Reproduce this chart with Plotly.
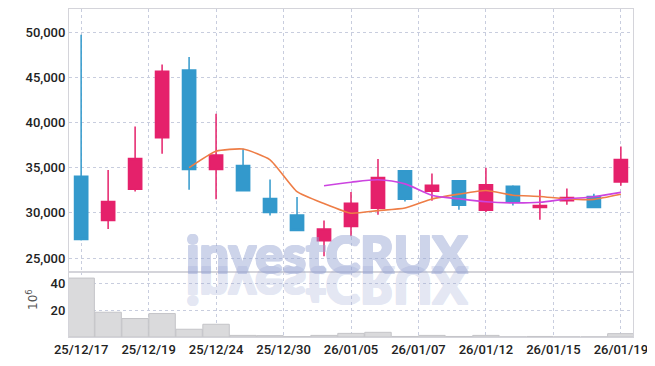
import plotly.graph_objects as go

# ---------------- data ----------------
dates = ["25/12/17", "25/12/18", "25/12/19", "25/12/22", "25/12/23", "25/12/24",
         "25/12/26", "25/12/29", "25/12/30", "26/01/02", "26/01/05", "26/01/06",
         "26/01/07", "26/01/08", "26/01/09", "26/01/12", "26/01/13", "26/01/14",
         "26/01/15", "26/01/16", "26/01/19"]
opens = [34050, 29150, 32600, 38300, 45800, 34800, 35250, 31600, 29750, 26900, 28500,
         30500, 34650, 32400, 33550, 30300, 32950, 30600, 31350, 31800, 33400]
highs = [49700, 34750, 39550, 46400, 47250, 40950, 37100, 33700, 31750, 29150, 32300,
         35950, 34650, 34350, 33550, 35000, 33050, 32550, 32700, 32100, 37350]
lows = [26950, 28200, 32350, 36550, 32550, 31500, 32450, 29700, 28050, 25200, 27400,
        29800, 31250, 31350, 30350, 30100, 30800, 29250, 30900, 30600, 33000]
closes = [27050, 31250, 36000, 45650, 34800, 36400, 32450, 30050, 28050, 28200, 31050,
          33900, 31500, 33050, 30850, 33100, 31250, 30800, 31700, 30600, 35900]
ma5 = [None, None, None, None, 35000, 36820, 37060, 35870, 32350, 31030, 29960,
       30250, 30540, 31540, 32070, 32480, 31950, 31810, 31540, 31490, 32050]
ma10 = [None, None, None, None, None, None, None, None, None, 32990, 33390,
        33655, 33205, 31945, 31550, 31220, 31100, 31175, 31540, 31780, 32265]
volume_m = [44.0, 18.5, 13.8, 17.5, 5.8, 9.5, 1.2, 1.0, 0.3, 1.2, 2.7,
            3.5, 0.4, 1.2, 0.4, 1.2, 0.1, 0.4, 0.1, 0.1, 2.5]
tick_pos = [0, 2.5, 5, 7.5, 10, 12.5, 15, 17.5, 20]
tick_labels = ["25/12/17", "25/12/19", "25/12/24", "25/12/30", "26/01/05",
               "26/01/07", "26/01/12", "26/01/15", "26/01/19"]
price_ticks = [25000, 30000, 35000, 40000, 45000, 50000]
vol_ticks = [20, 40]

x = list(range(len(dates)))

UP = "#e5216b"
DOWN = "#3399cc"
GRID = "rgb(200,205,222)"
FRAME = "rgb(212,212,218)"
TICKFONT = dict(family="Roboto", size=13, weight=500, color="#222222")
WMFONT = "Lato, Liberation Sans, Arial"
WMCOL = "rgb(152,166,212)"
WMSHADOW = ", ".join(f"{dx}px {dy}px 0px {WMCOL}" for dx, dy in
                     [(1, 0), (-1, 0), (0, 1), (0, -1), (1, 1), (-1, -1), (1, -1), (-1, 1)])

fig = go.Figure()

fig.add_trace(go.Candlestick(
    x=x, open=opens, high=highs, low=lows, close=closes,
    increasing=dict(line=dict(color=UP, width=1.5), fillcolor=UP),
    decreasing=dict(line=dict(color=DOWN, width=1.5), fillcolor=DOWN),
    xaxis="x2", yaxis="y2", showlegend=False, hoverinfo="skip",
))
fig.add_trace(go.Scatter(
    x=x, y=ma5, mode="lines", line=dict(color="#ee7d46", width=1.6, shape="spline", smoothing=0.5),
    xaxis="x2", yaxis="y2", showlegend=False, hoverinfo="skip",
))
fig.add_trace(go.Scatter(
    x=x, y=ma10, mode="lines", line=dict(color="#cc44e0", width=1.6, shape="spline", smoothing=0.8),
    xaxis="x2", yaxis="y2", showlegend=False, hoverinfo="skip",
))
fig.add_trace(go.Bar(
    x=x, y=volume_m, marker=dict(color="rgb(218,218,220)", line=dict(color="rgb(196,196,200)", width=1)),
    xaxis="x", yaxis="y", showlegend=False, hoverinfo="skip",
))

xrange = [-0.45, 20.45]
common_x = dict(range=xrange, tickmode="array", tickvals=tick_pos, showgrid=True,
                gridcolor=GRID, griddash="dot", gridwidth=1, showline=True, mirror=True,
                linecolor=FRAME, linewidth=1, zeroline=False, ticks="", automargin=False)

fig.update_layout(
    width=655, height=366,
    margin=dict(l=61, r=30, t=1, b=37),
    paper_bgcolor="white", plot_bgcolor="white",
    bargap=0.02,
    xaxis=dict(**common_x, ticktext=tick_labels, tickfont=TICKFONT, anchor="y", domain=[0, 1]),
    xaxis2=dict(**common_x, ticktext=tick_labels, showticklabels=False, anchor="y2",
                matches="x", rangeslider=dict(visible=False)),
    yaxis=dict(domain=[0, 0.198], range=[0, 48.5], tickmode="array", tickvals=vol_ticks,
               tickfont=TICKFONT, showgrid=True, gridcolor=GRID, griddash="dot",
               showline=True, mirror=True, linecolor=FRAME, zeroline=False, ticks="",
               ticklabelstandoff=0, automargin=False),
    yaxis2=dict(domain=[0.198, 1], range=[23450, 52550], tickmode="array", tickvals=price_ticks,
                tickformat=",", tickfont=TICKFONT, showgrid=True, gridcolor=GRID, griddash="dot",
                showline=True, mirror=True, linecolor=FRAME, zeroline=False, ticks="",
                ticklabelstandoff=0, automargin=False),
    annotations=[
        dict(text="investCRUX", xref="paper", yref="paper", x=0.458, y=0.257,
             xanchor="center", yanchor="middle", showarrow=False, opacity=0.48,
             font=dict(family=WMFONT, size=52, weight=900, color=WMCOL, shadow=WMSHADOW)),
        dict(text="investCRUX", xref="paper", yref="paper", x=0.458, y=0.153,
             xanchor="center", yanchor="middle", showarrow=False, opacity=0.26,
             font=dict(family=WMFONT, size=52, weight=900, color=WMCOL, shadow=WMSHADOW)),
        dict(text="10<sup>6</sup>", xref="paper", yref="paper", x=-0.0656, y=0.113,
             xanchor="center", yanchor="middle", showarrow=False, textangle=-90,
             font=dict(family="DejaVu Sans", size=12, color="#555555")),
    ],
)

post = """
var gd = document.getElementById('{plot_id}');
var t = gd.querySelector('g.annotation[data-index="1"] text.annotation-text');
if (t) {
  var b = t.getBBox();
  var cy = b.y + b.height / 2;
  t.setAttribute('transform', 'matrix(1,0,0,-1,0,' + (2 * cy) + ')');
}
"""

fig.write_html("out.html", post_script=post)
